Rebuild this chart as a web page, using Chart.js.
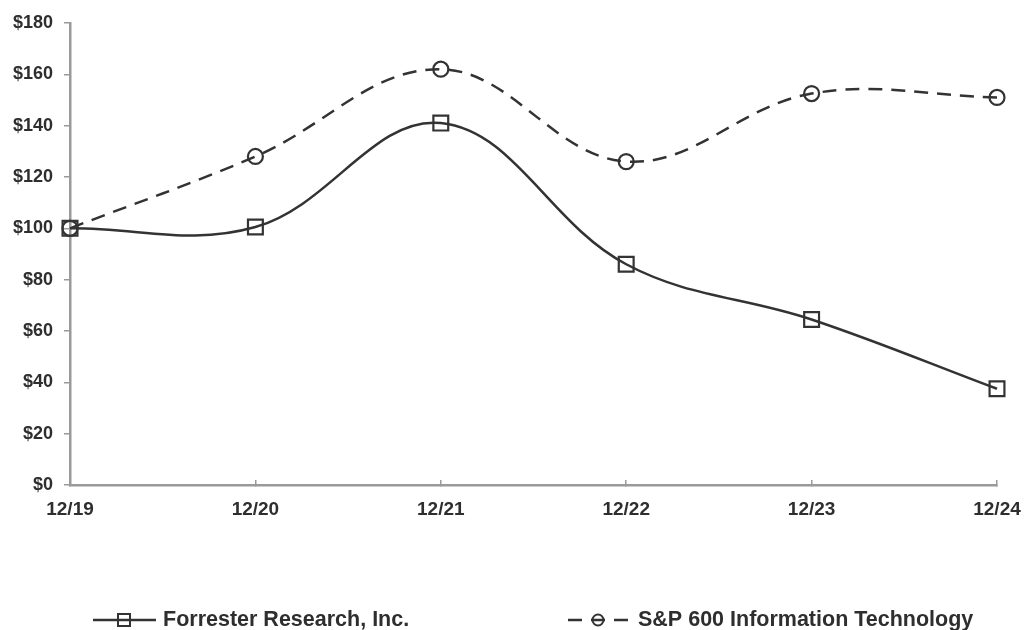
<!DOCTYPE html>
<html>
<head>
<meta charset="utf-8">
<script src="https://cdn.jsdelivr.net/npm/chart.js@4"></script>
<style>
  html, body { margin: 0; padding: 0; background: #ffffff; }
  #wrap { position: relative; width: 1027px; height: 630px; }
</style>
</head>
<body>
<div id="wrap"><canvas id="c"></canvas></div>
<script>
const categories = ['12/19', '12/20', '12/21', '12/22', '12/23', '12/24'];
const forresterValues = [100, 100.5, 141, 86, 64.5, 37.5];
const spValues = [100, 128, 162, 126, 152.5, 151];
const seriesNames = ['Forrester Research, Inc.', 'S&P 600 Information Technology'];

const lineColor = '#333333';
const textColor = '#2e2e2e';
const axisColor = '#9a9a9a';
const fontFamily = '"Liberation Sans", Arial, sans-serif';

// Custom legend drawn at the bottom, using each dataset's own style
const bottomLegend = {
  id: 'bottomLegend',
  afterDraw(chart, args, opts) {
    const ctx = chart.ctx;
    const y = opts.y;
    chart.data.datasets.forEach((ds, i) => {
      const it = opts.items[i];
      ctx.save();
      ctx.strokeStyle = ds.borderColor;
      ctx.lineWidth = ds.borderWidth;
      ctx.setLineDash(ds.borderDash || []);
      ctx.beginPath();
      ctx.moveTo(it.x0, y);
      ctx.lineTo(it.x1, y);
      ctx.stroke();
      ctx.setLineDash([]);
      ctx.lineWidth = 2;
      ctx.beginPath();
      if (ds.pointStyle === 'rect') {
        ctx.rect(it.mx - 6, y - 6, 12, 12);
      } else {
        ctx.arc(it.mx, y, 5.5, 0, Math.PI * 2);
      }
      ctx.stroke();
      ctx.fillStyle = textColor;
      ctx.font = 'bold 21.5px ' + fontFamily;
      ctx.textBaseline = 'middle';
      ctx.textAlign = 'left';
      ctx.fillText(ds.label, it.tx, y);
      ctx.restore();
    });
  }
};

new Chart(document.getElementById('c'), {
  type: 'line',
  data: {
    labels: categories,
    datasets: [
      {
        label: seriesNames[0],
        data: forresterValues,
        borderColor: lineColor,
        borderWidth: 2.5,
        tension: 0.38,
        pointStyle: 'rect',
        pointRadius: 10.5,
        pointBorderWidth: 2.2,
        pointBorderColor: lineColor,
        pointBackgroundColor: 'rgba(0,0,0,0)',
        fill: false
      },
      {
        label: seriesNames[1],
        data: spValues,
        borderColor: lineColor,
        borderWidth: 2.5,
        borderDash: [14, 9],
        tension: 0.38,
        pointStyle: 'circle',
        pointRadius: 7.5,
        pointBorderWidth: 2.2,
        pointBorderColor: lineColor,
        pointBackgroundColor: 'rgba(0,0,0,0)',
        fill: false
      }
    ]
  },
  options: {
    responsive: true,
    maintainAspectRatio: false,
    animation: false,
    layout: { padding: { top: 23, right: 30, bottom: 0, left: 0 } },
    plugins: {
      legend: { display: false },
      tooltip: { enabled: false },
      bottomLegend: {
        y: 620,
        items: [
          { x0: 93, x1: 156, mx: 124, tx: 163 },
          { x0: 568, x1: 632, mx: 598, tx: 638 }
        ]
      }
    },
    scales: {
      x: {
        offset: false,
        afterFit(scale) {
          scale.height = 145;
          scale.paddingLeft = 0;
          scale.paddingRight = 0;
        },
        grid: {
          display: true,
          drawOnChartArea: false,
          drawTicks: true,
          tickLength: -5,
          color: axisColor,
          lineWidth: 1.5
        },
        border: { display: true, color: axisColor, width: 2.5 },
        ticks: {
          color: textColor,
          font: { family: fontFamily, size: 19, weight: 'bold' },
          padding: 18,
          maxRotation: 0,
          autoSkip: false
        }
      },
      y: {
        min: 0,
        max: 180,
        afterFit(scale) { scale.width = 70; },
        grid: {
          display: true,
          drawOnChartArea: false,
          drawTicks: true,
          tickLength: 6,
          color: axisColor,
          lineWidth: 1.5
        },
        border: { display: true, color: axisColor, width: 2.5 },
        ticks: {
          stepSize: 20,
          color: textColor,
          font: { family: fontFamily, size: 18, weight: 'bold' },
          padding: 11,
          callback: (v) => '$' + v
        }
      }
    }
  },
  plugins: [bottomLegend]
});
</script>
</body>
</html>
